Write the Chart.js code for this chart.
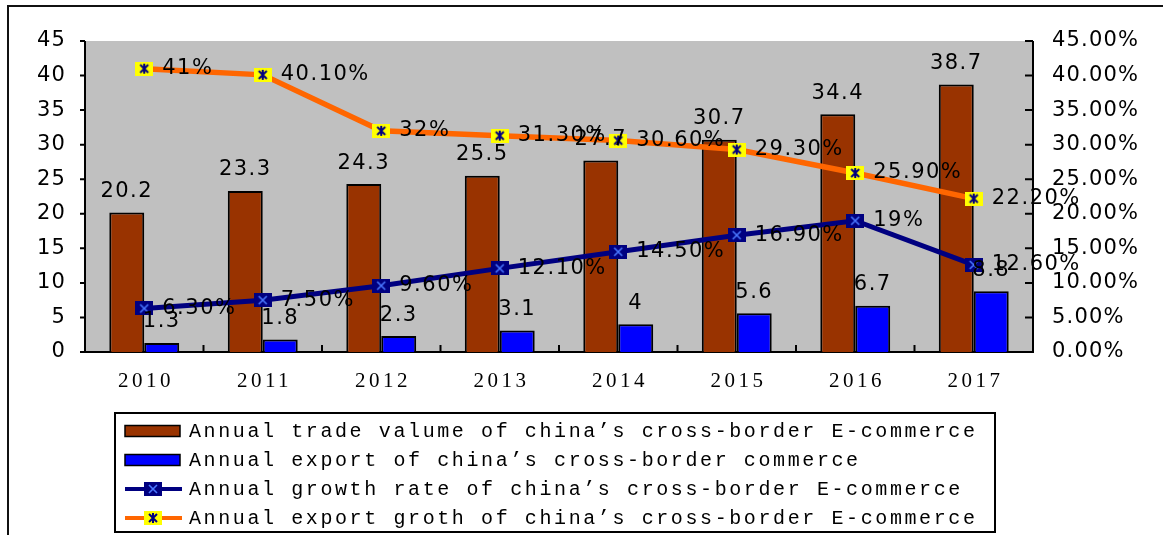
<!DOCTYPE html>
<html>
<head>
<meta charset="utf-8">
<script src="https://cdn.jsdelivr.net/npm/chart.js@4"></script>
<style>
  body { margin: 0; background: #fff; }
  #chart { display: block; }
</style>
</head>
<body>
<canvas id="chart" width="1163" height="535"></canvas>
<script>
const years = ["2010", "2011", "2012", "2013", "2014", "2015", "2016", "2017"];
const tradeValue = [20.2, 23.3, 24.3, 25.5, 27.7, 30.7, 34.4, 38.7];
const exportValue = [1.3, 1.8, 2.3, 3.1, 4, 5.6, 6.7, 8.8];
const growthRate = [6.3, 7.5, 9.6, 12.1, 14.5, 16.9, 19, 12.6];
const exportGrowth = [41, 40.1, 32, 31.3, 30.6, 29.3, 25.9, 22.2];
const growthLabels = ["6.30%", "7.50%", "9.60%", "12.10%", "14.50%", "16.90%", "19%", "12.60%"];
const exportGrowthLabels = ["41%", "40.10%", "32%", "31.30%", "30.60%", "29.30%", "25.90%", "22.20%"];
const legendNames = [
  "Annual trade valume of china’s cross-border E-commerce",
  "Annual export of china’s cross-border commerce",
  "Annual growth rate of china’s cross-border E-commerce",
  "Annual export groth of china’s cross-border E-commerce"
];

// little square markers like the old office chart
function makeMarker(bg, fg, star) {
  const c = document.createElement("canvas");
  c.width = 18; c.height = 14;
  const g = c.getContext("2d");
  g.fillStyle = bg;
  g.fillRect(0, 0, 18, 14);
  g.strokeStyle = fg;
  g.lineWidth = star ? 2 : 1.6;
  g.beginPath();
  g.moveTo(5, 3); g.lineTo(13, 11);
  g.moveTo(13, 3); g.lineTo(5, 11);
  if (star) { g.moveTo(9, 2); g.lineTo(9, 12); }
  g.stroke();
  return c;
}
const navyMarker = makeMarker("#000080", "#4a78ff", false);
const yellowMarker = makeMarker("#ffff00", "#000080", true);

const valueFont = '21px "DejaVu Sans"';

const framePlugin = {
  id: "frame",
  beforeDraw(chart) {
    const { ctx, chartArea: a } = chart;
    ctx.letterSpacing = "1.2px";
    ctx.save();
    ctx.fillStyle = "#c0c0c0";
    ctx.fillRect(a.left, a.top, a.right - a.left, a.bottom - a.top);
    ctx.strokeStyle = "#111";
    ctx.lineWidth = 2;
    ctx.beginPath();
    ctx.moveTo(8, 535); ctx.lineTo(8, 6); ctx.lineTo(1163, 6);
    ctx.stroke();
    ctx.restore();
  },
  beforeDatasetsDraw(chart) {
    const { ctx, chartArea: a, scales } = chart;
    ctx.save();
    ctx.strokeStyle = "#000";
    ctx.lineWidth = 2;
    ctx.beginPath();
    ctx.moveTo(a.left, a.top); ctx.lineTo(a.left, a.bottom); ctx.lineTo(a.right, a.bottom); ctx.lineTo(a.right, a.top);
    scales.y.ticks.forEach(t => {
      const y = scales.y.getPixelForValue(t.value);
      ctx.moveTo(a.left - 5, y); ctx.lineTo(a.left, y);
    });
    scales.y2.ticks.forEach(t => {
      const y = scales.y2.getPixelForValue(t.value);
      ctx.moveTo(a.right - 8, y); ctx.lineTo(a.right, y);
    });
    for (let i = 0; i < years.length - 1; i++) {
      const x = (scales.x.getPixelForValue(i) + scales.x.getPixelForValue(i + 1)) / 2;
      ctx.moveTo(x, a.bottom); ctx.lineTo(x, a.bottom - 7);
    }
    ctx.stroke();
    // year labels
    ctx.fillStyle = "#000";
    ctx.font = '21px "Liberation Serif"';
    ctx.letterSpacing = "3.5px";
    ctx.textAlign = "center";
    ctx.textBaseline = "middle";
    years.forEach((yr, i) => {
      ctx.fillText(yr, scales.x.getPixelForValue(i) + 1.75, 381);
    });
    ctx.restore();
  },
  afterDatasetsDraw(chart) {
    const { ctx } = chart;
    ctx.save();
    ctx.fillStyle = "#000";
    ctx.font = valueFont;
    ctx.letterSpacing = "1.5px";
    ctx.textBaseline = "middle";
    chart.data.datasets.forEach((ds, di) => {
      const meta = chart.getDatasetMeta(di);
      meta.data.forEach((el, i) => {
        if (ds.type === "bar") {
          ctx.textAlign = "center";
          ctx.fillText(String(ds.data[i]), el.x, el.y - 21);
        } else {
          ctx.textAlign = "left";
          ctx.fillText(ds.pointText[i], el.x + 18, el.y);
        }
      });
    });
    ctx.restore();
  },
  afterDraw(chart) {
    const { ctx } = chart;
    ctx.save();
    ctx.strokeStyle = "#000";
    ctx.lineWidth = 2;
    ctx.strokeRect(115, 413, 880, 119);
    ctx.font = '20px "Liberation Mono"';
    ctx.letterSpacing = "2.6px";
    ctx.textAlign = "left";
    ctx.textBaseline = "middle";
    chart.data.datasets.forEach((ds, i) => {
      const cy = 431 + i * 29;
      if (ds.type === "bar") {
        ctx.fillStyle = ds.backgroundColor;
        ctx.fillRect(125, cy - 5.5, 55, 11);
        ctx.lineWidth = 1.5;
        ctx.strokeStyle = "#000";
        ctx.strokeRect(125, cy - 5.5, 55, 11);
      } else {
        ctx.strokeStyle = ds.borderColor;
        ctx.lineWidth = 4;
        ctx.beginPath();
        ctx.moveTo(125, cy); ctx.lineTo(182, cy);
        ctx.stroke();
        ctx.drawImage(ds.pointStyle, 144, cy - 7);
      }
      ctx.fillStyle = "#000";
      ctx.fillText(legendNames[i], 189, cy + 1);
    });
    ctx.restore();
  }
};

new Chart(document.getElementById("chart"), {
  data: {
    labels: years,
    datasets: [
      {
        type: "bar", data: tradeValue, yAxisID: "y", order: 2,
        backgroundColor: "#993300", borderColor: "#000", borderWidth: 2,
        categoryPercentage: 0.59, barPercentage: 1.0
      },
      {
        type: "bar", data: exportValue, yAxisID: "y", order: 2,
        backgroundColor: "#0000ff", borderColor: "#000", borderWidth: 2,
        categoryPercentage: 0.59, barPercentage: 1.0
      },
      {
        type: "line", data: growthRate, yAxisID: "y2", order: 1,
        borderColor: "#000080", borderWidth: 5, tension: 0,
        pointStyle: navyMarker, pointRadius: 9, pointText: growthLabels
      },
      {
        type: "line", data: exportGrowth, yAxisID: "y2", order: 0,
        borderColor: "#ff6600", borderWidth: 5.5, tension: 0,
        pointStyle: yellowMarker, pointRadius: 9, pointText: exportGrowthLabels
      }
    ]
  },
  options: {
    responsive: false,
    animation: false,
    layout: { padding: { top: 41, left: 0, right: 0, bottom: 0 } },
    plugins: { legend: { display: false }, tooltip: { enabled: false } },
    scales: {
      x: {
        offset: true,
        grid: { display: false, drawTicks: false },
        border: { display: false },
        ticks: { display: false },
        afterFit(s) { s.height = 183; }
      },
      y: {
        position: "left", min: 0, max: 45,
        grid: { display: false, drawTicks: false },
        border: { display: false },
        ticks: { stepSize: 5, padding: 19, color: "#000", font: { family: "DejaVu Sans", size: 21 } },
        afterFit(s) { s.width = 85; }
      },
      y2: {
        position: "right", min: 0, max: 45,
        grid: { display: false, drawTicks: false },
        border: { display: false },
        ticks: {
          stepSize: 5, padding: 19, color: "#000", font: { family: "DejaVu Sans", size: 21 },
          callback: v => v.toFixed(2) + "%"
        },
        afterFit(s) { s.width = 130; }
      }
    }
  },
  plugins: [framePlugin]
});
</script>
</body>
</html>
